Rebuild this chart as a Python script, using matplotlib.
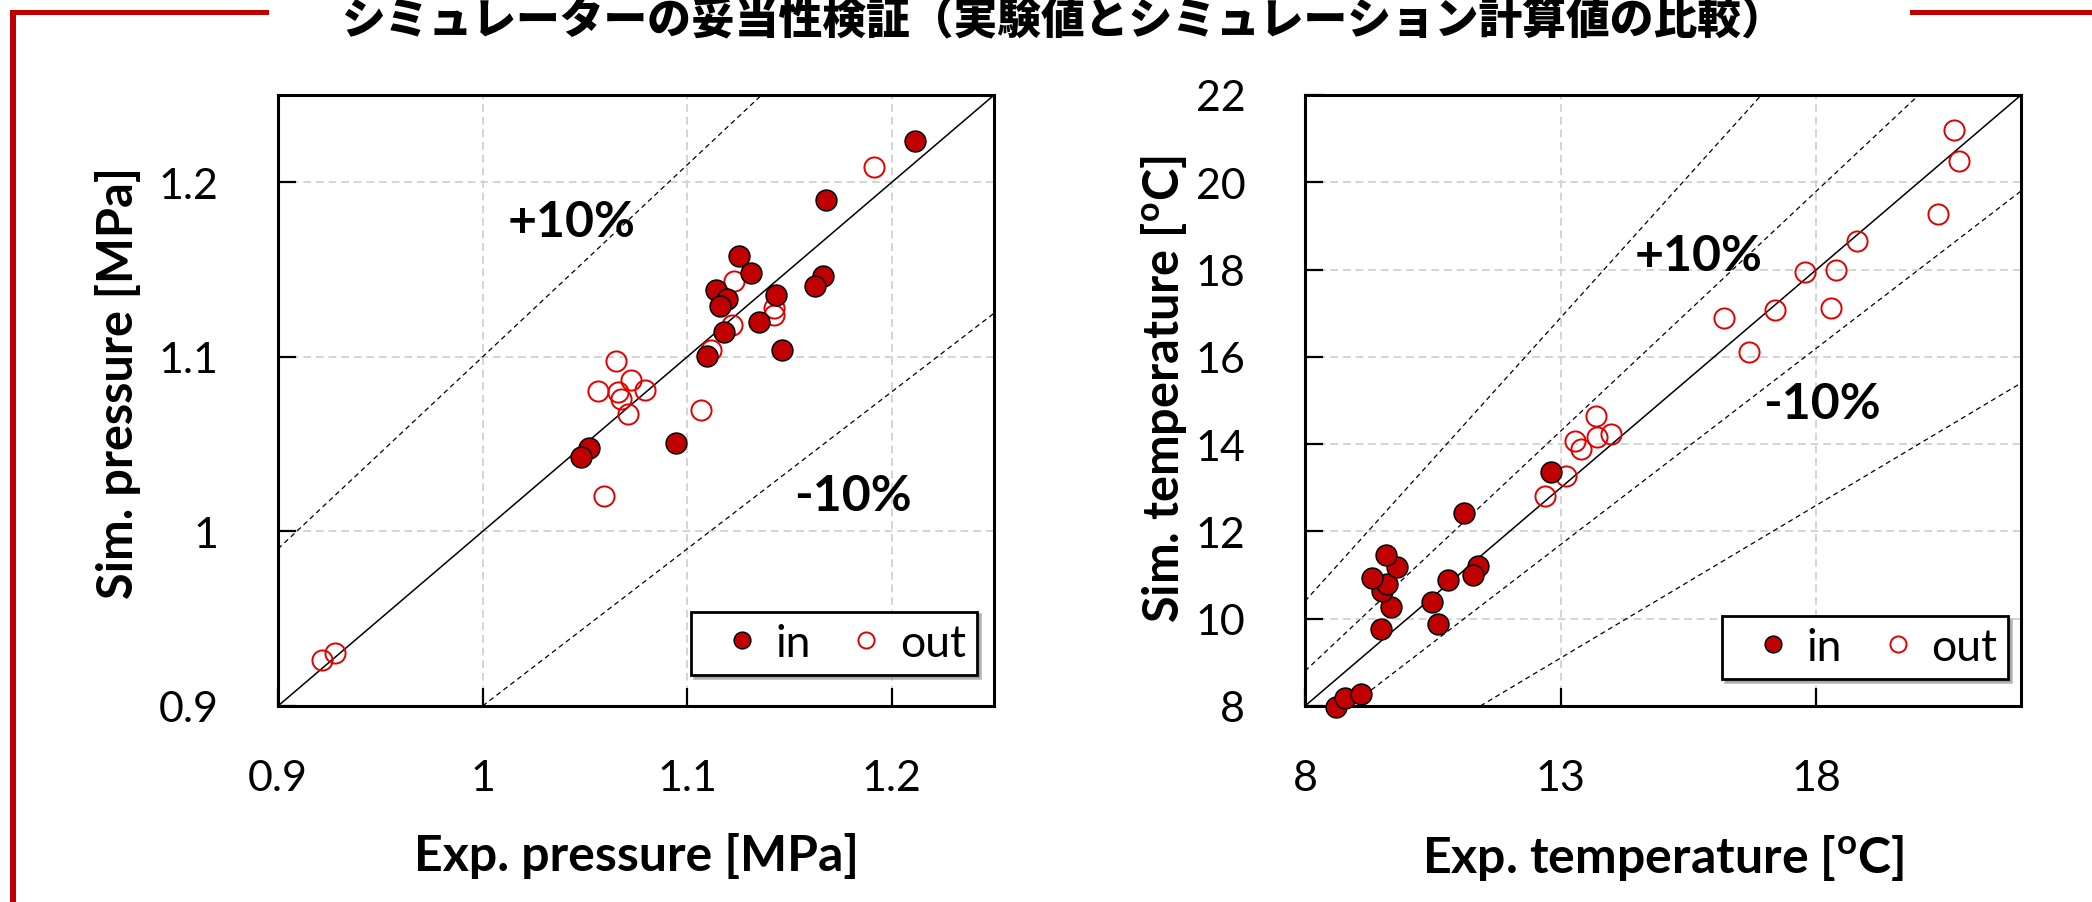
import matplotlib
matplotlib.use("Agg")
import matplotlib.pyplot as plt
from matplotlib.patches import Rectangle

plt.rcParams['font.family'] = ['Lato', 'DejaVu Sans']
plt.rcParams['mathtext.fontset'] = 'custom'
plt.rcParams['mathtext.rm'] = 'Lato'
plt.rcParams['mathtext.bf'] = 'Lato:bold'

# ---- data ----
title = "シミュレーターの妥当性検証（実験値とシミュレーション計算値の比較）"

# pressure [MPa]
p_in_exp = [1.2115, 1.168, 1.1254, 1.1312, 1.1143, 1.1192, 1.1162, 1.1432, 1.1662,
            1.1623, 1.1353, 1.118, 1.1462, 1.1099, 1.0943, 1.052, 1.0481]
p_in_sim = [1.2238, 1.190, 1.1576, 1.1478, 1.1385, 1.1333, 1.1291, 1.1354, 1.1462,
            1.1408, 1.1198, 1.1144, 1.1039, 1.1004, 1.0508, 1.0478, 1.0426]
p_out_exp = [1.1912, 1.1231, 1.1422, 1.1422, 1.1219, 1.1116, 1.065, 1.0723, 1.0562,
             1.0793, 1.0661, 1.0677, 1.0712, 1.1069, 1.0592, 0.9277, 0.9217]
p_out_sim = [1.2086, 1.1436, 1.128, 1.124, 1.1181, 1.1039, 1.0976, 1.0866, 1.0805,
             1.0812, 1.0801, 1.0758, 1.0672, 1.0695, 1.0204, 0.9304, 0.9262]

# temperature [oC]
t_in_exp = [8.6, 8.78, 9.09, 9.49, 9.69, 9.5, 9.61, 9.31, 9.8, 9.59,
            10.49, 10.6, 10.79, 11.39, 11.29, 11.1, 12.8]
t_in_sim = [7.97, 8.19, 8.28, 9.76, 10.26, 10.64, 10.8, 10.94, 11.18, 11.47,
            10.38, 9.885, 10.875, 11.205, 11.0, 12.43, 13.37]
t_out_exp = [20.68, 20.79, 20.38, 18.79, 17.78, 18.38, 18.28, 17.18, 16.19, 16.69,
             13.69, 13.28, 13.7, 13.99, 13.4, 13.1, 12.69]
t_out_sim = [21.2, 20.49, 19.28, 18.65, 17.95, 17.98, 17.12, 17.08, 16.88, 16.11,
             14.65, 14.08, 14.17, 14.24, 13.89, 13.28, 12.81]

p_lim = (0.9, 1.25)
p_ticks = [0.9, 1.0, 1.1, 1.2]
p_tick_labels = ['0.9', '1', '1.1', '1.2']
p_ratios = [1.1, 0.9]

t_lim = (8, 22)
t_xticks = [8, 13, 18]
t_yticks = [8, 10, 12, 14, 16, 18, 20, 22]
t_ratios = [1.3, 1.1, 0.9, 0.7]

# (text, x, y) of the +10% / -10% labels
p_notes = [('+10%', 1.0435, 1.169), ('-10%', 1.1808, 1.0122)]
t_notes = [('+10%', 15.70, 17.99), ('-10%', 18.10, 14.60)]

RED = '#c00000'

fig = plt.figure(figsize=(20.92, 9.03), dpi=100)

# red frame decoration and title
fig.add_artist(Rectangle((10 / 2092, 1 - 16 / 903), 259 / 2092, 5 / 903,
                         transform=fig.transFigure, color=RED, lw=0))
fig.add_artist(Rectangle((10 / 2092, 0), 6 / 2092, 1 - 11 / 903,
                         transform=fig.transFigure, color=RED, lw=0))
fig.add_artist(Rectangle((1910 / 2092, 1 - 16 / 903), 182 / 2092, 5 / 903,
                         transform=fig.transFigure, color=RED, lw=0))
fig.text(0.5086, 0.9625, title, ha='center', va='baseline', fontsize=31.5,
         fontweight='black', family=['Noto Sans CJK JP', 'DejaVu Sans'])


def panel(ax, x_in, y_in, x_out, y_out, lim, xticks, xlabels, yticks, ylabels,
          ratios, notes, xlabel, ylabel, ylab_x, ylab_y, leg_anchor):
    ax.set_xlim(lim)
    ax.set_ylim(lim)
    ax.set_xticks(xticks, xlabels)
    ax.set_yticks(yticks, ylabels)
    ax.tick_params(direction='in', length=13, width=1.6, labelsize=31,
                   color='black')
    ax.tick_params(axis='x', pad=38)
    ax.tick_params(axis='y', pad=43)
    for s in ax.spines.values():
        s.set_linewidth(2.2)
    ax.grid(True, color='#d4d4d4', linestyle=(0, (4, 2.5)), linewidth=1.4)
    ax.set_axisbelow(True)

    ax.axline((0, 0), slope=1, color='black', lw=1.1, zorder=2)
    for r in ratios:
        ax.axline((0, 0), slope=r, color='black', lw=0.9,
                  linestyle=(0, (4, 3)), zorder=2)

    ax.plot(x_out, y_out, 'o', ms=14.5, mfc='none', mec='#e00000', mew=1.4,
            label='out', zorder=3, clip_on=False)
    ax.plot(x_in, y_in, 'o', ms=15, mfc=RED, mec='black', mew=1.1,
            label='in', zorder=4, clip_on=False)

    for txt, tx, ty in notes:
        ax.text(tx, ty, txt, ha='center', va='baseline', fontsize=36,
                fontweight='bold')

    ax.set_xlabel(xlabel, fontsize=36, fontweight='bold')
    ax.set_ylabel(ylabel, fontsize=35, fontweight='bold')
    ax.xaxis.set_label_coords(0.5, -0.206)
    ax.yaxis.set_label_coords(ylab_x, ylab_y)

    h, l = ax.get_legend_handles_labels()
    leg = ax.legend(h[::-1], l[::-1], loc='lower right', bbox_to_anchor=leg_anchor,
                    borderaxespad=0, ncol=2, fontsize=32, markerscale=0.8,
                    handlelength=1.8, handletextpad=-0.15, columnspacing=0.35,
                    borderpad=0.25, fancybox=False, framealpha=1,
                    edgecolor='black', shadow={'color': '0.55', 'alpha': 0.55})
    leg.get_frame().set_linewidth(2.0)


ax1 = fig.add_axes([0.1329, 0.2171, 0.3423, 0.6766])
panel(ax1, p_in_exp, p_in_sim, p_out_exp, p_out_sim, p_lim,
      p_ticks, p_tick_labels, p_ticks, p_tick_labels, p_ratios, p_notes,
      'Exp. pressure [MPa]', 'Sim. pressure [MPa]', -0.191, 0.53, (0.976, 0.051))

ax2 = fig.add_axes([0.6238, 0.2171, 0.3423, 0.6766])
panel(ax2, t_in_exp, t_in_sim, t_out_exp, t_out_sim, t_lim,
      t_xticks, [str(v) for v in t_xticks], t_yticks, [str(v) for v in t_yticks],
      t_ratios, t_notes,
      r'Exp. temperature [$^{\mathbf{o}}$C]', r'Sim. temperature [$^{\mathbf{o}}$C]',
      -0.162, 0.52, (0.982, 0.044))

fig.savefig('out.png', dpi=100)
